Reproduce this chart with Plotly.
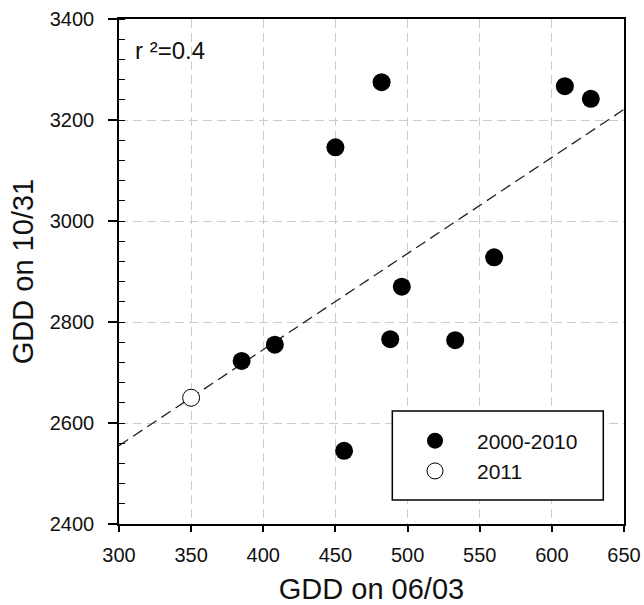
import numpy as np
import plotly.graph_objects as go

# ---- data ----
gdd_0603_2000_2010 = [385, 408, 450, 456, 482, 488, 496, 533, 560, 609, 627]
gdd_1031_2000_2010 = [2723, 2755, 3146, 2545, 3275, 2766, 2870, 2764, 2928, 3267, 3242]
gdd_0603_2011 = [350]
gdd_1031_2011 = [2650]
series_names = ["2000-2010", "2011"]
r2_label = "r ²=0.4"
x_range = [300, 650]
y_range = [2400, 3400]

# regression line through 2000-2010 data
slope, intercept = np.polyfit(gdd_0603_2000_2010, gdd_1031_2000_2010, 1)
line_x = np.array(x_range, dtype=float)
line_y = slope * line_x + intercept

FONT = "Liberation Sans, Arial, sans-serif"

fig = go.Figure()
fig.add_trace(go.Scatter(
    x=line_x, y=line_y, mode="lines",
    line=dict(color="#222222", width=1.3, dash="11px,6px"),
    showlegend=False, hoverinfo="skip"))
fig.add_trace(go.Scatter(
    x=gdd_0603_2000_2010, y=gdd_1031_2000_2010, mode="markers",
    name=series_names[0],
    marker=dict(size=18, color="black", line=dict(width=0))))
fig.add_trace(go.Scatter(
    x=gdd_0603_2011, y=gdd_1031_2011, mode="markers",
    name=series_names[1],
    marker=dict(size=17, color="white", line=dict(width=1, color="black"))))

axis_common = dict(
    showline=True, linecolor="black", linewidth=1.5, mirror=True,
    showgrid=True, gridcolor="#cccccc", gridwidth=1, griddash="9px,5px",
    zeroline=False, ticks="outside", tickcolor="black", tickwidth=1.5,
    tickfont=dict(family=FONT, size=20, color="#111111"),
    automargin=False,
)

fig.update_xaxes(
    range=x_range, tick0=300, dtick=50, ticklen=6, ticklabelstandoff=6,
    title=dict(text="GDD on 06/03", font=dict(family=FONT, size=29, color="#111111"), standoff=15),
    **axis_common)
fig.update_yaxes(
    range=y_range, tick0=2400, dtick=200, ticklen=9, ticklabelstandoff=10,
    minor=dict(dtick=40, ticks="inside", ticklen=6, tickcolor="black", tickwidth=1, showgrid=False),
    title=dict(text="GDD on 10/31", font=dict(family=FONT, size=29, color="#111111"), standoff=8),
    **axis_common)

fig.add_shape(type="rect", xref="paper", yref="paper",
              x0=0.5412, x1=0.959, y0=0.0475, y1=0.2238,
              line=dict(color="black", width=1.5), fillcolor="white", layer="above")

fig.add_annotation(xref="paper", yref="paper", x=0.027, y=0.937,
                   xanchor="left", yanchor="middle", showarrow=False,
                   text=r2_label, font=dict(family=FONT, size=24, color="#111111"))

fig.update_layout(
    width=644, height=605,
    margin=dict(l=119, r=20, t=19, b=81),
    paper_bgcolor="white", plot_bgcolor="white",
    font=dict(family=FONT, color="#111111"),
    showlegend=True,
    legend=dict(x=0.5426, y=0.205, xanchor="left", yanchor="top",
                bgcolor="rgba(0,0,0,0)", borderwidth=0,
                itemwidth=74, tracegroupgap=0,
                font=dict(family=FONT, size=21, color="#111111")),
)

fig.write_html("out.html")
